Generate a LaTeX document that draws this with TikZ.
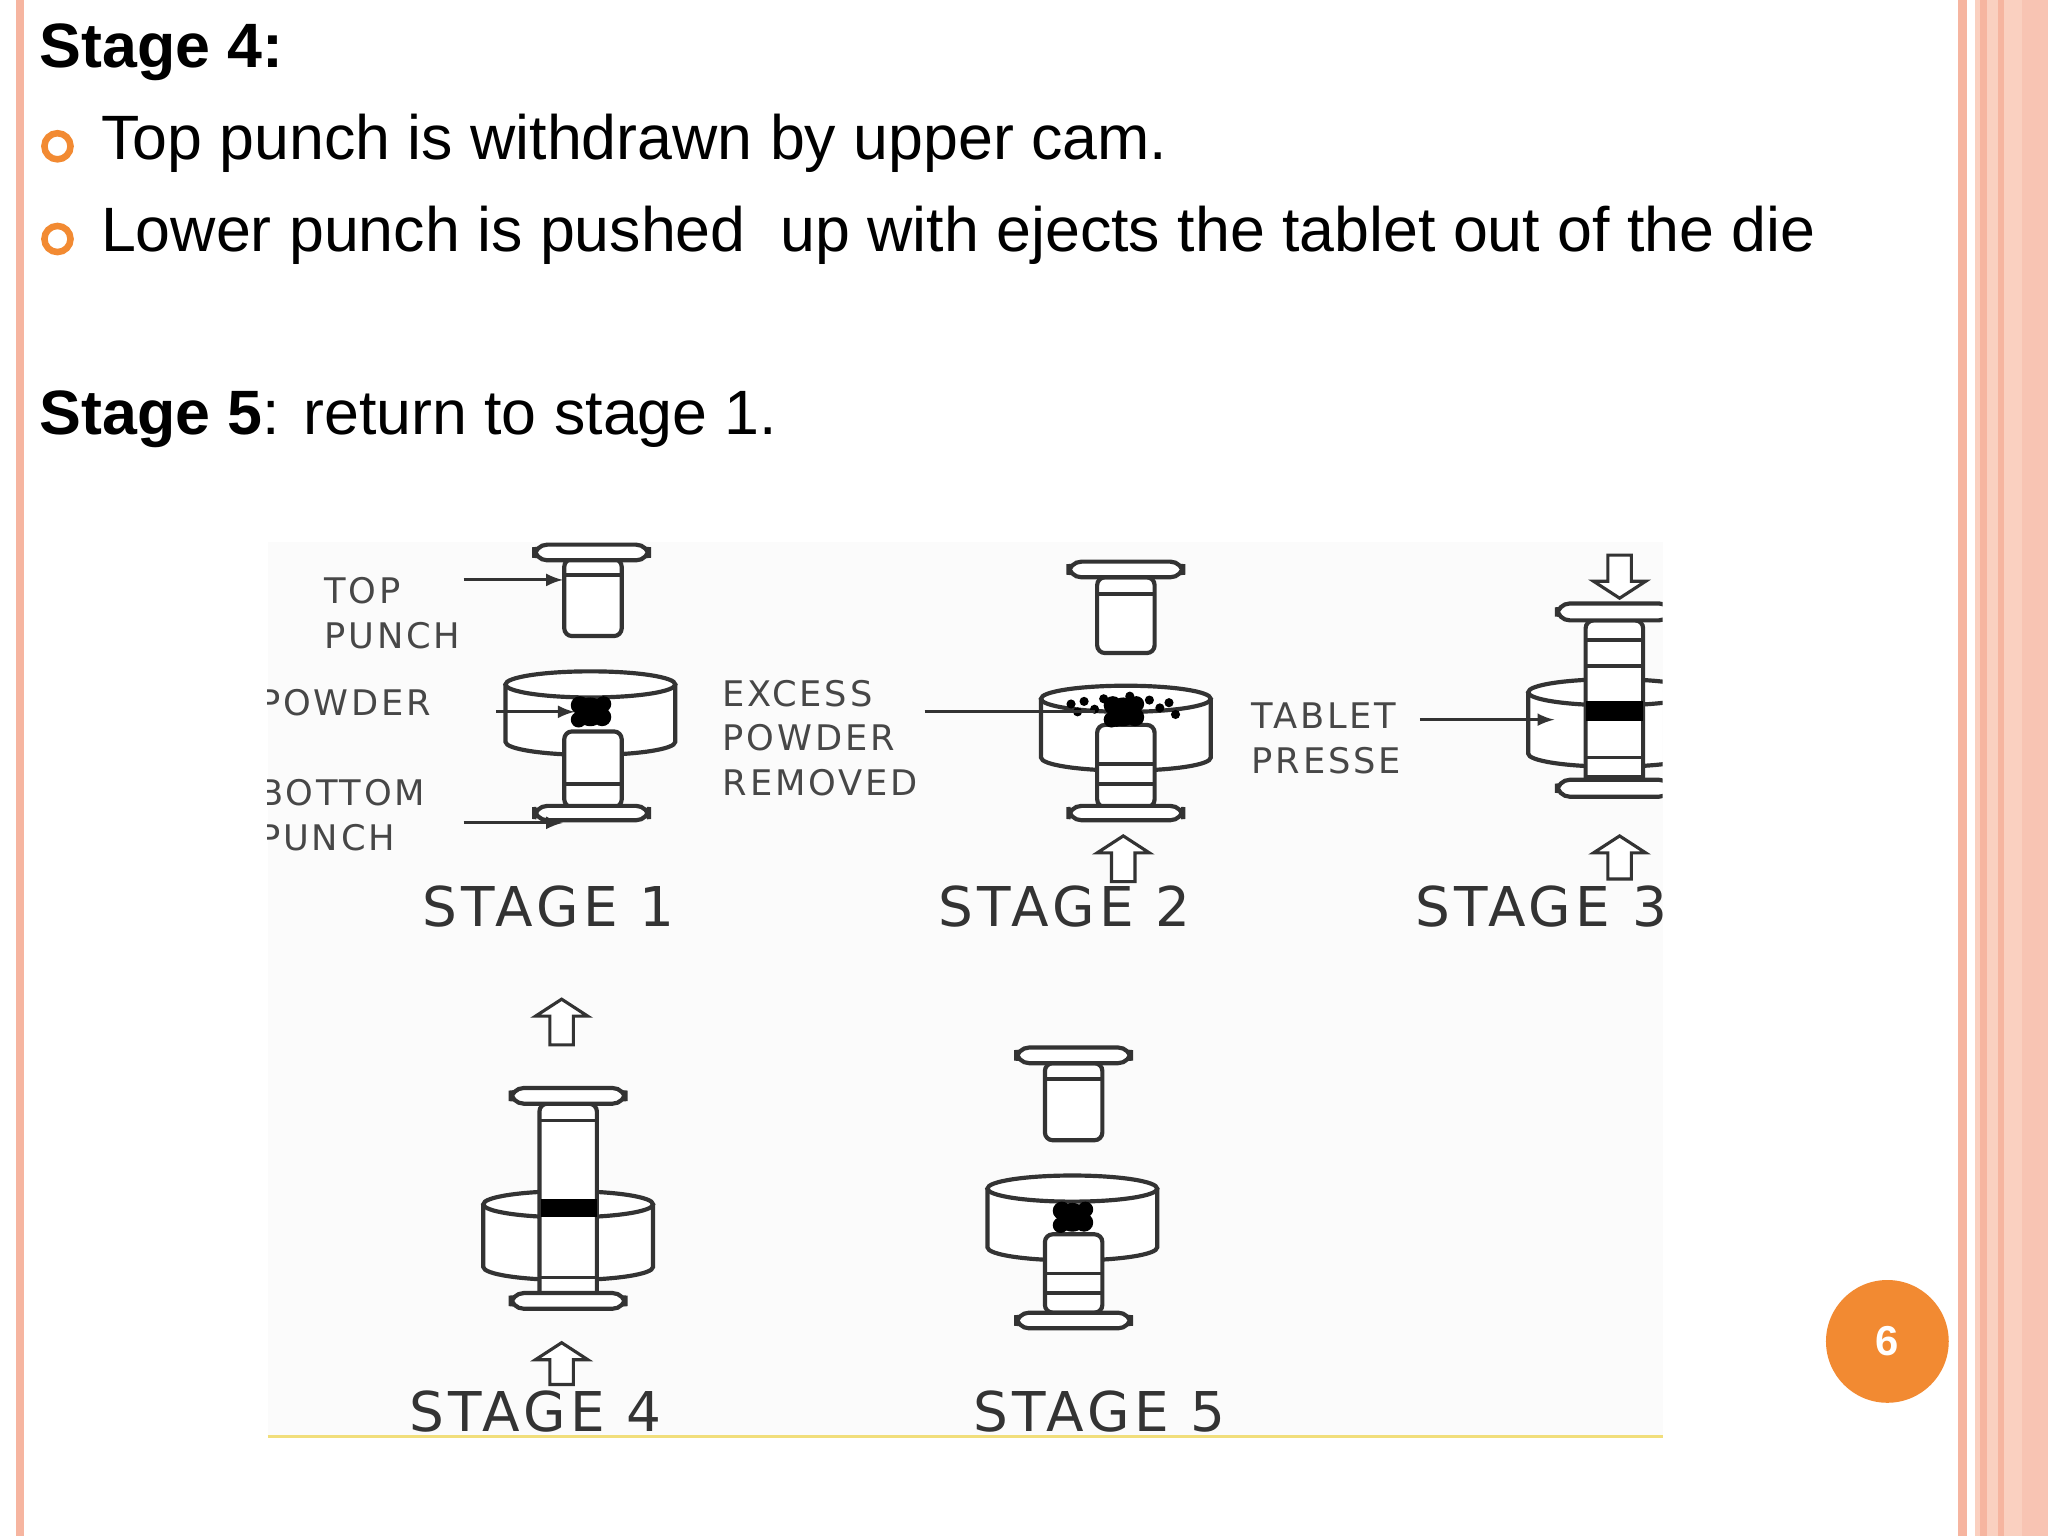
\documentclass[tikz,border=0pt]{standalone}
\usepackage{fontspec}
\setmainfont{Liberation Sans}
\newfontfamily\diafont[LetterSpace=8]{DejaVu Sans}
\definecolor{salmon}{HTML}{F6B5A0}
\definecolor{peach}{HTML}{FAD0C0}
\definecolor{orng}{HTML}{F28A32}
\definecolor{ink}{HTML}{333333}
\tikzset{pl/.style={draw=ink,line width=1.6pt,fill=white},
 lab/.style={font=\diafont\fontsize{13.5}{15}\selectfont,text=ink!90,anchor=west,inner sep=0},
 stg/.style={font=\diafont\fontsize{21}{23}\selectfont,text=ink,inner sep=0},
 body/.style={font=\fontsize{24}{28}\selectfont,anchor=west,inner sep=0},
 lead/.style={draw=ink,line width=1.2pt,-latex},
 bul/.style={draw=orng,line width=2.5pt,fill=white,circle,minimum size=10pt,inner sep=0}}
\newcommand\tophead[3]{\draw[pl,rounded corners=5] (#1-44,#2) rectangle (#1+44,#3);}
\newcommand\stem[4]{\draw[pl,rounded corners=3] (#1-22,#2) rectangle (#1+22,#3); \draw[draw=ink,line width=1.4pt] (#1-22,#4) -- (#1+22,#4);}
\newcommand\stemline[2]{\draw[draw=ink,line width=1.4pt] (#1-22,#2) -- (#1+22,#2);}
\newcommand\die[3]{\draw[pl] (#1-65,#2) -- (#1-65,#3) arc (180:0:65 and 10) -- (#1+65,#2); \draw[pl] (#1,#2) ellipse (65 and 10);}
\newcommand\uparr[3]{\draw[draw=ink,line width=1.2pt,fill=white] (#1,#2) -- (#1+20,#2+13) -- (#1+9,#2+13) -- (#1+9,#3) -- (#1-9,#3) -- (#1-9,#2+13) -- (#1-20,#2+13) -- cycle;}
\newcommand\dnarr[3]{\draw[draw=ink,line width=1.2pt,fill=white] (#1,#2) -- (#1+20,#2-13) -- (#1+9,#2-13) -- (#1+9,#3) -- (#1-9,#3) -- (#1-9,#2-13) -- (#1-20,#2-13) -- cycle;}
\newcommand\blob[2]{\fill[black] (#1,#2) circle (11) (#1-8,#2-5) circle (7) (#1+9,#2+4) circle (7) (#1+10,#2-6) circle (6) (#1-9,#2+6) circle (6);}
\begin{document}
\begin{tikzpicture}[x=0.5pt,y=-0.5pt]
\useasboundingbox (0,0) rectangle (1568,1176);
\fill[white] (0,0) rectangle (1568,1176);
% borders
\fill[salmon] (12,0) rectangle (18,1176);
\fill[salmon] (1499,0) rectangle (1506,1176);
\fill[peach] (1512,0) rectangle (1568,1176);
\fill[salmon] (1516,0) rectangle (1521,1176);
\fill[salmon] (1530,0) rectangle (1534,1176);
\fill[salmon!80] (1548,0) rectangle (1568,1176);
% text
\node[body,font=\bfseries\fontsize{24}{28}\selectfont] (s4) at (30,40) {Stage 4:};
\node[bul] (b1) at (44,112) {};
\node[body] (t1) at (77,110) {Top punch is withdrawn by upper cam.};
\node[bul] (b2) at (44,183) {};
\node[body] (t2) at (77,180) {Lower punch is pushed\ \ up with ejects the tablet out of the die};
\node[body] (s5) at (30,321) {\textbf{Stage 5}: return to stage 1.};
% page number
\node[circle,fill=orng,minimum size=47pt,inner sep=0,text=white,font=\bfseries\fontsize{16}{18}\selectfont] (pg) at (1445,1027) {6};
% diagram
\fill[gray!3] (205,415) rectangle (1273,1100);
\draw[draw=yellow!60!brown!60,line width=1pt] (205,1100) -- (1273,1100);
\begin{scope}
\clip (205,412) rectangle (1273,1100);
% stage 1
\die{452}{524}{568}
\stem{454}{428}{487}{440}
\tophead{453}{417}{429}
\stem{454}{560}{618}{600}
\tophead{453}{617}{628}
\blob{452}{545}
\node[lab] (ltop) at (248,452) {TOP};
\node[lab] (lpun) at (248,487) {PUNCH};
\node[lab] (lpow) at (198,538) {POWDER};
\node[lab] (lbot) at (198,607) {BOTTOM};
\node[lab] (lpun2) at (198,641) {PUNCH};
\coordinate (a1) at (431,444); \coordinate (a2) at (440,545); \coordinate (a3) at (431,630);
\draw[lead] (355,444) -- (a1);
\draw[lead] (380,545) -- (a2);
\draw[lead] (355,630) -- (a3);
\node[stg] (st1) at (420,694) {STAGE 1};
% stage 2
\die{862}{535}{580}
\stem{862}{442}{500}{455}
\tophead{862}{430}{442}
\stem{862}{555}{618}{585}
\stemline{862}{600}
\tophead{862}{617}{628}
\blob{860}{545}
\foreach \dx/\dy in {-30/-8,-22/-2,-15/-10,20/-9,28/-3,35/-7,-35/0,12/6,-5/8,40/2,5/-12,-40/-6}
  \fill[black] (860+\dx,545+\dy) circle (3.5);
\node[lab] (lex) at (553,531) {EXCESS};
\node[lab] (lpw2) at (553,565) {POWDER};
\node[lab] (lrem) at (553,599) {REMOVED};
\coordinate (a4) at (838,545);
\draw[draw=ink,line width=1.2pt] (708,545) -- (a4);
\uparr{860}{640}{675}
\node[stg] (st2) at (815,694) {STAGE 2};
% stage 3
\dnarr{1240}{458}{425}
\die{1235}{530}{577}
\stem{1236}{475}{610}{490}
\stemline{1236}{510}\stemline{1236}{580}\stemline{1236}{595}
\fill[black] (1214,537) rectangle (1258,552);
\tophead{1236}{462}{475}
\tophead{1236}{597}{610}
\node[lab] (ltab) at (958,548) {TABLET};
\node[lab] (lpre) at (958,582) {PRESSE};
\coordinate (a5) at (1190,551);
\draw[lead] (1087,551) -- (a5);
\uparr{1240}{640}{673}
\node[stg] (st3) at (1180,694) {STAGE 3};
% stage 4
\uparr{430}{765}{800}
\die{435}{922}{970}
\stem{435}{845}{995}{858}
\stemline{435}{978}
\fill[black] (414,918) rectangle (457,932);
\tophead{435}{833}{845}
\tophead{435}{990}{1002}
\uparr{430}{1028}{1060}
\node[stg] (st4) at (410,1081) {STAGE 4};
% stage 5
\die{821}{910}{955}
\stem{822}{814}{873}{826}
\tophead{822}{802}{814}
\stem{822}{945}{1005}{975}
\stemline{822}{990}
\tophead{822}{1005}{1017}
\blob{821}{932}
\node[stg] (st5) at (842,1081) {STAGE 5};
\end{scope}
\end{tikzpicture}
\end{document}
